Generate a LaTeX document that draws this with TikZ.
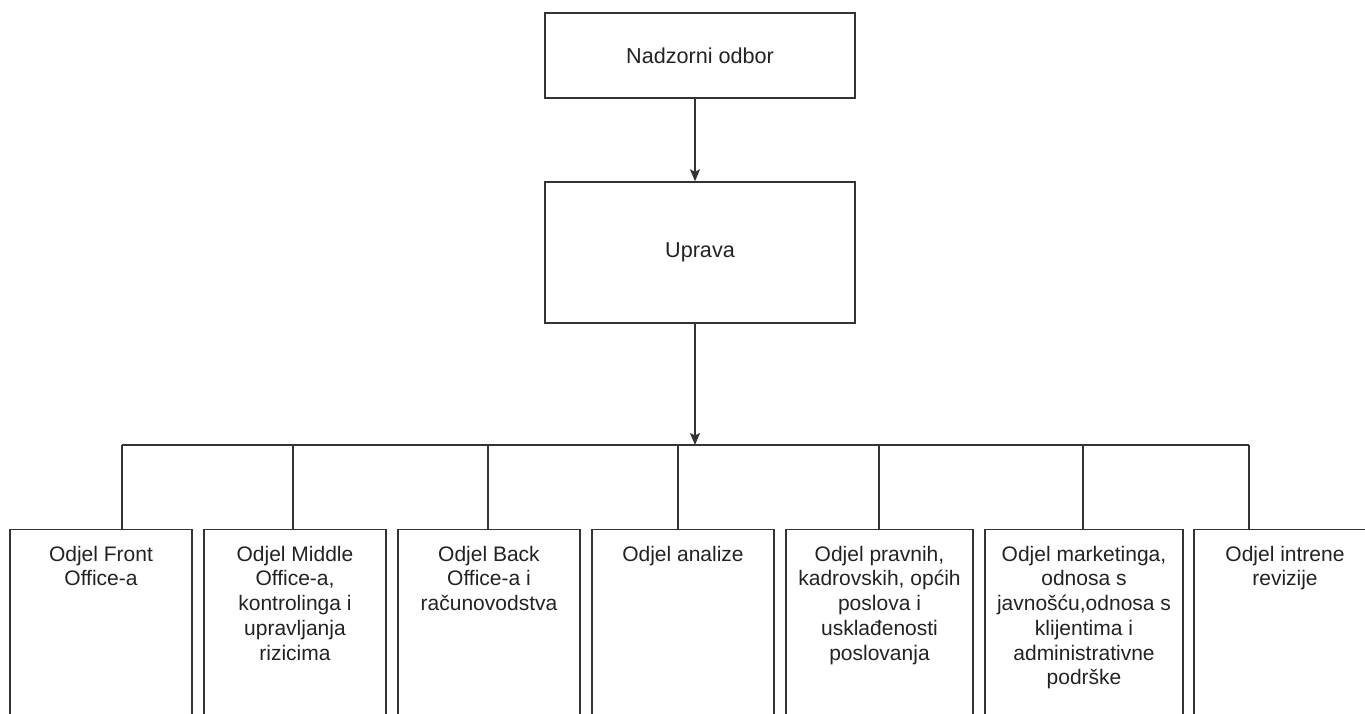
\documentclass[tikz,border=0pt]{standalone}
\usepackage{fontspec}
\setmainfont{Liberation Sans}
\usetikzlibrary{positioning,arrows.meta}
\definecolor{linegray}{HTML}{333333}
\definecolor{txtgray}{HTML}{222222}

\begin{document}
\begin{tikzpicture}[x=1pt,y=-1pt,line width=1.4pt,
    textfont/.style={font=\fontsize{21}{24.7}\selectfont,text=txtgray},
    box/.style={draw=linegray,rectangle,inner sep=0pt,textfont},
    topbox/.style={box,minimum width=310pt,font=\fontsize{21.6}{25}\selectfont},
    deptbox/.style={box,anchor=north,minimum height=200pt},
    depttxt/.style={textfont,align=center,inner sep=0pt,outer sep=0pt},
    link/.style={draw=linegray},
    arr/.style={link,-{Stealth[length=12pt,width=10pt,inset=2.5pt]}}]

      \useasboundingbox (0,0) rectangle (1365,714);
      \clip (0,0) rectangle (1365,714);

      % upper levels
      \node[topbox,minimum height=85pt]  (nadzor) at (700,55.5)  {Nadzorni odbor};
      \node[topbox,minimum height=141pt] (uprava) at (700,252.5) {Uprava};

      % departments
      \begin{scope}[minimum width=182pt]
        \node[deptbox] (front)  at (101,529)  {};
        \node[deptbox] (middle) at (295,529)  {};
        \node[deptbox] (back)   at (489,529)  {};
        \node[deptbox] (anal)   at (683,529)  {};
        \node[deptbox,minimum width=187pt] (pravo) at (879.5,529) {};
        \node[deptbox,minimum width=198pt] (mark)  at (1084,529)  {};
        \node[deptbox] (rev)    at (1285,529) {};
      \end{scope}

      \node[depttxt,below=17pt of front.north]  {Odjel Front\\Office-a};
      \node[depttxt,below=17pt of middle.north] {Odjel Middle\\Office-a,\\kontrolinga i\\upravljanja\\rizicima};
      \node[depttxt,below=17pt of back.north]   {Odjel Back\\Office-a i\\računovodstva};
      \node[depttxt,below=17pt of anal.north]   {Odjel analize};
      \node[depttxt,below=17pt of pravo.north]  {Odjel pravnih,\\kadrovskih, općih\\poslova i\\usklađenosti\\poslovanja};
      \node[depttxt,below=17pt of mark.north]   {Odjel marketinga,\\odnosa s\\javnošću,odnosa s\\klijentima i\\administrativne\\podrške};
      \node[depttxt,below=17pt of rev.north]    {Odjel intrene\\revizije};

      % bus
      \coordinate (mid) at (695,445);
      \coordinate (b1) at (122,445);
      \coordinate (b2) at (293,445);
      \coordinate (b3) at (488,445);
      \coordinate (b4) at (678,445);
      \coordinate (b5) at (879,445);
      \coordinate (b6) at (1083,445);
      \coordinate (b7) at (1249,445);

      \draw[arr] ([xshift=-5pt]nadzor.south) -- ([xshift=-5pt]uprava.north);
      \draw[arr] ([xshift=-5pt]uprava.south) -- (mid);
      \draw[link] (b1) -- (b7);
      \draw[link] (b1) -- (b1 |- front.north);
      \draw[link] (b2) -- (b2 |- middle.north);
      \draw[link] (b3) -- (b3 |- back.north);
      \draw[link] (b4) -- (b4 |- anal.north);
      \draw[link] (b5) -- (b5 |- pravo.north);
      \draw[link] (b6) -- (b6 |- mark.north);
      \draw[link] (b7) -- (b7 |- rev.north);

    \end{tikzpicture}
\end{document}
